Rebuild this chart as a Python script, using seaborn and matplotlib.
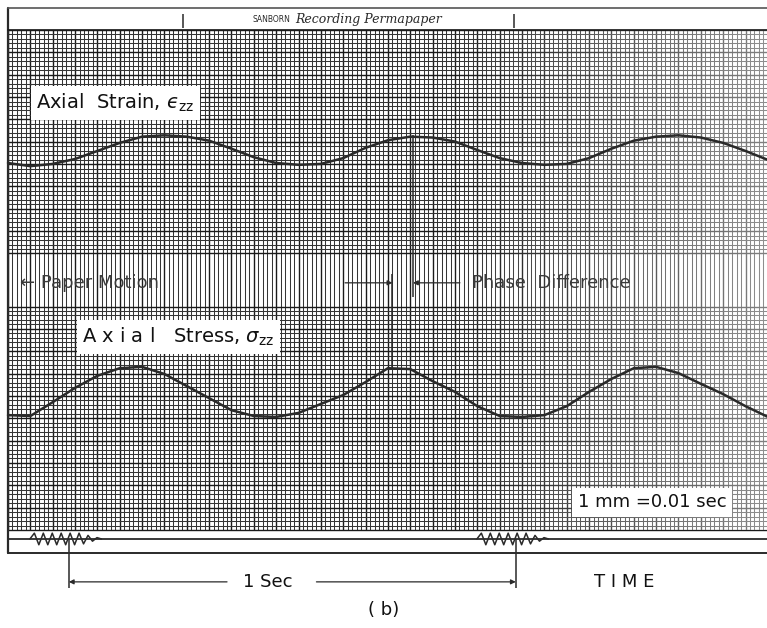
"""Sanborn 记录纸：轴向应变与轴向应力的相位差"""

import numpy as np
import pandas as pd
import matplotlib

matplotlib.use("Agg")
import matplotlib.pyplot as plt
import seaborn as sns

# 时间轴（秒），记录纸 1 mm = 0.01 s
time_s = [0.00, 0.05, 0.10, 0.15, 0.20, 0.25, 0.30, 0.35, 0.40, 0.45,
          0.50, 0.55, 0.60, 0.65, 0.70, 0.75, 0.80, 0.85, 0.90, 0.95,
          1.00, 1.05, 1.10, 1.15, 1.20, 1.25, 1.30, 1.35, 1.40, 1.45,
          1.50, 1.55, 1.60, 1.65, 1.70]

# 笔尖位置（mm，自栅格底边向上量）
strain_mm = [82.1, 81.4, 81.9, 83.0, 84.8, 86.6, 88.0, 88.3, 88.0, 87.1,
             85.3, 83.4, 82.1, 81.7, 81.9, 83.2, 85.5, 87.2, 88.0, 87.8,
             86.9, 85.0, 83.2, 82.1, 81.7, 81.9, 83.2, 85.3, 87.1, 88.0,
             88.3, 87.8, 86.6, 84.8, 82.8]
stress_mm = [25.7, 25.5, 28.6, 31.8, 34.5, 36.2, 36.5, 34.9, 32.2, 29.5,
             26.8, 25.5, 25.3, 26.2, 28.2, 30.2, 33.1, 36.2, 36.0, 33.3,
             30.9, 27.7, 25.5, 25.3, 25.7, 27.7, 30.9, 33.8, 36.2, 36.5,
             35.1, 32.7, 30.4, 27.7, 25.3]

strain_peak_s = 0.906
stress_peak_s = 0.860
second_marks_s = [0.136, 1.136]
burst_mm = [0, 1.3, -1.3, 1.3, -1.3, 1.3, -1.3, 1.3, -1.3, 1.3, -1.3,
            1.3, -1.1, 0.8, -0.5, 0.3, 0]

# 记录纸尺寸
PAPER_S = 1.698
GRID_TOP = 111.86

df = pd.DataFrame({"time": time_s, "strain": strain_mm, "stress": stress_mm})

sns.set_theme(style="white")
plt.rcParams["font.family"] = ["DejaVu Sans"]

fig = plt.figure(figsize=(7.67, 6.28), dpi=100)
ax = fig.add_axes([0, 0, 1, 1])

minor_c, major_c, ink = "#353535", "#1a1a1a", "#2a2a2a"

# 竖向栅格
ticks = np.arange(0, 170) * 0.01
ax.vlines([t for i, t in enumerate(ticks) if i % 5], 0, GRID_TOP,
          color=minor_c, lw=0.75, zorder=1)
ax.vlines(ticks[::5], 0, GRID_TOP, color=major_c, lw=1.0, zorder=1)

# 横向栅格：上下两个 50 mm 通道，中间留空带
for base, sign in ((0.0, 1), (GRID_TOP, -1)):
    rows = np.arange(0, 51)
    ys = base + sign * rows
    ax.hlines([y for r, y in zip(rows, ys) if r % 5], 0, PAPER_S,
              color=minor_c, lw=0.75, zorder=1)
    ax.hlines([y for r, y in zip(rows, ys) if r % 5 == 0], 0, PAPER_S,
              color=major_c, lw=1.0, zorder=1)

# 扫描件右侧较浅
ramp = np.ones((1, 64, 4))
ramp[..., 3] = np.linspace(0, 0.45, 64)
ax.imshow(ramp, extent=(1.0, PAPER_S, 0, GRID_TOP), aspect="auto",
          interpolation="bilinear", zorder=2)

# 两条记录曲线
sns.lineplot(data=df, x="time", y="strain", ax=ax, color=ink, lw=1.8,
             zorder=4, legend=False)
sns.lineplot(data=df, x="time", y="stress", ax=ax, color=ink, lw=1.8,
             zorder=4, legend=False)

# 相位差标记
band_y = 55.3
ax.vlines(strain_peak_s, 52.1, max(strain_mm), color=ink, lw=1.1, zorder=5)
ax.vlines(stress_peak_s, max(stress_mm), 57.2, color=ink, lw=1.1, zorder=5)
arrow = dict(arrowstyle="-|>", lw=0.9, color=ink, mutation_scale=7,
             shrinkA=0, shrinkB=0)
ax.annotate("", xy=(stress_peak_s, band_y), xytext=(0.754, band_y),
            arrowprops=arrow, zorder=5)
ax.annotate("", xy=(strain_peak_s, band_y), xytext=(1.011, band_y),
            arrowprops=arrow, zorder=5)
ax.text(0.027, band_y, "← Paper Motion", fontsize=13, color="#3a3a3a",
        va="center", zorder=5)
ax.text(1.038, band_y, "Phase  Difference", fontsize=13, color="#3a3a3a",
        va="center", zorder=5)

# 标签
box = dict(facecolor="white", edgecolor="none", pad=4)
ax.text(0.063, 95.5, "Axial  Strain, $\u03f5_{\\mathsf{zz}}$", fontsize=14,
        color="#111", va="center", bbox=box, zorder=6)
ax.text(0.166, 43.2, r"A x i a l   Stress, $\sigma_{\mathsf{zz}}$", fontsize=14,
        color="#111", va="center", bbox=box, zorder=6)
ax.text(1.275, 6.2, "1 mm =0.01 sec", fontsize=13, color="#111",
        va="center", bbox=box, zorder=6)

# 纸边与表头
ax.plot([0, 0], [116.8, -5.1], color=ink, lw=1.6, zorder=6)
ax.plot([0, PAPER_S], [116.8, 116.8], color="#555", lw=1.2, zorder=6)
ax.plot([0, PAPER_S], [GRID_TOP, GRID_TOP], color=major_c, lw=1.2, zorder=6)
ax.plot([0, PAPER_S], [-5.1, -5.1], color=ink, lw=1.4, zorder=6)
ax.vlines([0.391, 1.132], 112.4, 115.4, color=ink, lw=1.1)
ax.text(0.631, 114.1, "SANBORN", fontsize=5.5, ha="right", va="center",
        color=ink)
ax.text(0.642, 114.1, "Recording Permapaper", fontsize=9, ha="left",
        va="center", color=ink, family="DejaVu Serif", style="italic")

# 计时线与秒脉冲
trace_y = -2.0
ax.plot([0, PAPER_S], [trace_y, trace_y], color=ink, lw=1.3, zorder=6)
for m in second_marks_s:
    bt = [m - 0.087 + 0.01 * i for i in range(len(burst_mm))]
    ax.plot(bt, [trace_y + b for b in burst_mm], color=ink, lw=1.1, zorder=6)
ax.vlines(second_marks_s, -13.0, trace_y, color=ink, lw=1.1, zorder=6)

dim_y = -11.6
ax.annotate("", xy=(second_marks_s[0], dim_y), xytext=(0.49, dim_y),
            arrowprops=arrow)
ax.annotate("", xy=(second_marks_s[1], dim_y), xytext=(0.69, dim_y),
            arrowprops=arrow)
ax.text(0.582, dim_y, "1 Sec", fontsize=13, ha="center", va="center",
        color="#111")
ax.text(1.378, dim_y, "T I M E", fontsize=13, ha="center", va="center",
        color="#111")
ax.text(0.841, -17.9, "( b)", fontsize=13, ha="center", va="center",
        color="#111")

ax.set_xlim(-8 / 447, PAPER_S)
ax.set_ylim(-21.92, 118.57)
ax.axis("off")

fig.savefig("out.png", dpi=100)
